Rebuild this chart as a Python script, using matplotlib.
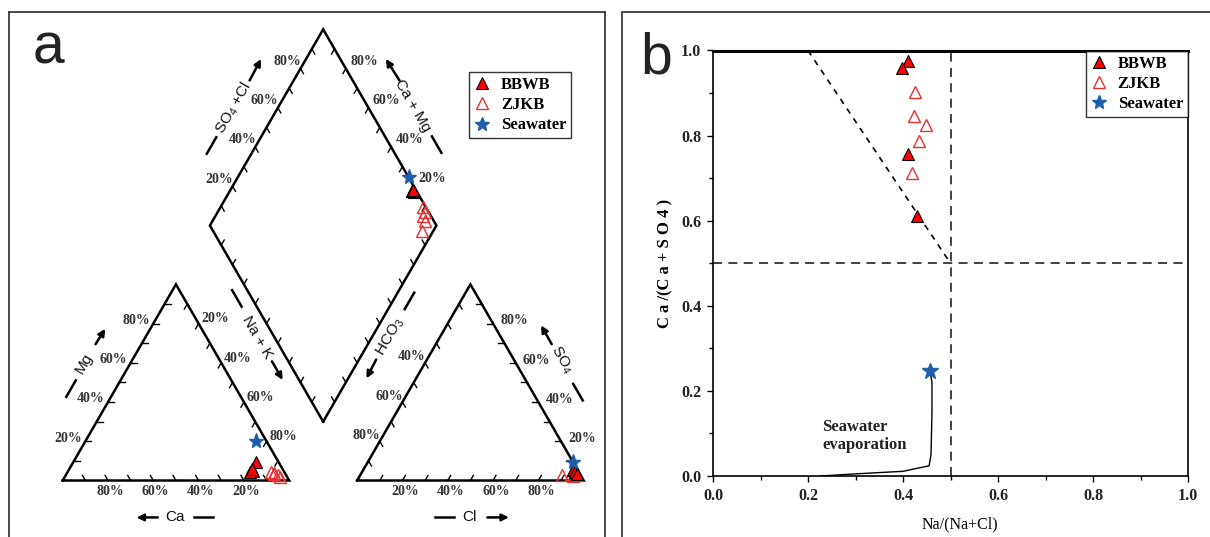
import numpy as np
import matplotlib
matplotlib.use("Agg")
import matplotlib.pyplot as plt
from matplotlib.lines import Line2D
from matplotlib.patches import Rectangle
from matplotlib.ticker import MultipleLocator, FormatStrFormatter

plt.rcParams['font.family'] = 'Liberation Serif'
plt.rcParams['mathtext.fontset'] = 'custom'
plt.rcParams['mathtext.rm'] = 'Liberation Sans'
plt.rcParams['mathtext.it'] = 'Liberation Sans:italic'

# ---- panel a: piper data (% meq) ----
bbwb_ca = [10.0, 13.5, 15.0, 13.5]
bbwb_mg = [9.5, 5.0, 4.5, 6.0]
bbwb_nak = [80.5, 81.5, 80.5, 80.5]
bbwb_cl = [92.6, 95.0, 94.0, 95.5]
bbwb_so4 = [5.4, 3.7, 4.3, 3.3]
bbwb_hco3 = [2.0, 1.3, 1.7, 1.2]

zjkb_ca = [6.0, 4.5, 5.0, 3.0, 3.5]
zjkb_mg = [4.5, 4.0, 3.5, 2.0, 3.0]
zjkb_nak = [89.5, 91.5, 91.5, 95.0, 93.5]
zjkb_cl = [95.5, 95.5, 94.0, 89.0, 92.5]
zjkb_so4 = [3.5, 3.0, 2.5, 3.0, 3.5]
zjkb_hco3 = [1.0, 1.5, 3.5, 8.0, 4.0]

sea_ca = [4.5]
sea_mg = [20.0]
sea_nak = [75.5]
sea_cl = [90.5]
sea_so4 = [9.5]
sea_hco3 = [0.0]

pct_ticks = [20, 40, 60, 80]

# ---- panel b: ion ratios ----
b_bbwb_x = [0.410, 0.398, 0.410, 0.429]
b_bbwb_y = [0.975, 0.958, 0.757, 0.612]
b_zjkb_x = [0.426, 0.424, 0.449, 0.433, 0.419]
b_zjkb_y = [0.902, 0.845, 0.824, 0.787, 0.711]
b_sea_x = [0.456]
b_sea_y = [0.246]
evap_x = [0.458, 0.461, 0.461, 0.459, 0.455, 0.40, 0.30, 0.27, 0.225]
evap_y = [0.240, 0.220, 0.150, 0.050, 0.024, 0.011, 0.005, 0.003, 0.0]

H = np.sqrt(3) / 2
GAP = 0.30
OFF = 1 + GAP

RED = '#ff0000'
OPEN_RED = '#e8312f'
BLUE = '#1f5ea8'
DARK = '#333333'


def cat_xy(ca, mg, nak):
    ca, mg, nak = np.asarray(ca), np.asarray(mg), np.asarray(nak)
    t = ca + mg + nak
    return nak / t + mg / t / 2, mg / t * H


def an_xy(cl, so4, hco3):
    cl, so4, hco3 = np.asarray(cl), np.asarray(so4), np.asarray(hco3)
    t = cl + so4 + hco3
    return OFF + cl / t + so4 / t / 2, so4 / t * H


def dia_xy(n, cs):
    n, cs = np.asarray(n), np.asarray(cs)
    return (n + OFF + cs) / 2, H * (OFF + cs - n)


def dia_sample(ca, mg, nak, cl, so4, hco3):
    n = np.asarray(nak) / (np.asarray(ca) + np.asarray(mg) + np.asarray(nak))
    cs = (np.asarray(cl) + np.asarray(so4)) / (np.asarray(cl) + np.asarray(so4) + np.asarray(hco3))
    return dia_xy(n, cs)


fig = plt.figure(figsize=(12.1, 5.37), dpi=100)

# ================= panel a =================
ax = fig.add_axes([9 / 1210, 0, 596 / 1210, 525 / 537])
ax.set_xlim(-0.2371, 2.3943)
ax.set_ylim(-0.2494, 2.0684)
ax.set_xticks([])
ax.set_yticks([])
ax.spines['bottom'].set_visible(False)
for s in ['left', 'top', 'right']:
    ax.spines[s].set_linewidth(1.3)
    ax.spines[s].set_color('#3a3a3a')

lw_frame = 1.8
ax.plot([0, 1, 0.5, 0], [0, 0, H, 0], color='k', lw=lw_frame, solid_joinstyle='miter')
ax.plot([OFF, OFF + 1, OFF + 0.5, OFF], [0, 0, H, 0], color='k', lw=lw_frame, solid_joinstyle='miter')
dx, dy = dia_xy([1, 0, 0, 1, 1], [0, 0, 1, 1, 0])
ax.plot(dx, dy, color='k', lw=lw_frame, solid_joinstyle='miter')

edges = [
    (lambda v: (v / 2, v * H), (1, 0)),
    (lambda v: (v, 0), (-0.5, H)),
    (lambda v: (0.5 + 0.5 * v, H * (1 - v)), (-0.5, -H)),
    (lambda v: (OFF + 0.5 * (1 - v), H * (1 - v)), (0.5, -H)),
    (lambda v: (OFF + v, 0), (0.5, H)),
    (lambda v: (OFF + 1 - 0.5 * v, H * v), (-1, 0)),
    (lambda v: dia_xy(0, v), (0.5, -H)),
    (lambda v: dia_xy(v, 1), (-0.5, -H)),
    (lambda v: dia_xy(v, 0), (0.5, H)),
    (lambda v: dia_xy(1, v), (-0.5, H)),
]
tl = 0.026
for f, d in edges:
    for v in np.arange(1, 10) / 10:
        px, py = f(v)
        ax.plot([px, px + tl * d[0]], [py, py + tl * d[1]], color='k', lw=1.0)

tick_kw = dict(fontsize=10, fontweight='bold', color=DARK, ha='center', va='center')
for v in pct_ticks:
    f = v / 100
    lab = f"{v}%"
    px, py = f / 2, f * H
    ax.text(px - 0.075, py + 0.014, lab, **tick_kw)
    ax.text(1 - f + 0.01, -0.048, lab, **tick_kw)
    px, py = 0.5 + 0.5 * f, H * (1 - f)
    ax.text(px + 0.073, py + 0.021, lab, **tick_kw)
    if v >= 40:
        px, py = OFF + 0.5 * (1 - f), H * (1 - f)
        ax.text(px - 0.06, py + 0.026, lab, **tick_kw)
    ax.text(OFF + f + 0.014, -0.048, lab, **tick_kw)
    px, py = OFF + 1 - 0.5 * f, H * f
    ax.text(px + 0.092, py + 0.012, lab, **tick_kw)
    px, py = dia_xy(0, f)
    ax.text(px - 0.058, py + 0.032, lab, **tick_kw)
    px, py = dia_xy(1 - f, 1)
    ax.text(px + 0.08, py + 0.033, lab, **tick_kw)

# axis names with dash and arrow
names = [
    ("SO$_4$ +Cl", (0.756, 1.645), 60, (0.657, 1.479), ((0.825, 1.766), (0.876, 1.861))),
    ("Ca + Mg", (1.547, 1.653), -60, (1.651, 1.483), ((1.487, 1.766), (1.427, 1.861))),
    ("Na + K", (0.859, 0.632), -60, (0.769, 0.804), ((0.924, 0.526), (0.971, 0.444))),
    ("HCO$_3$", (1.445, 0.632), 60, (1.531, 0.793), ((1.384, 0.534), (1.341, 0.451))),
    ("Mg", (0.093, 0.519), 60, (0.037, 0.406), ((0.145, 0.602), (0.188, 0.670))),
    ("SO$_4$", (2.202, 0.534), -60, (2.275, 0.390), ((2.159, 0.602), (2.112, 0.685))),
    ("Ca", (0.498, -0.161), 0, (0.622, -0.163), ((0.420, -0.163), (0.326, -0.163))),
    ("Cl", (1.797, -0.161), 0, (1.686, -0.163), ((1.875, -0.163), (1.970, -0.163))),
]
for txt, pos, rot, dc, (tail, head) in names:
    ax.text(pos[0], pos[1], txt, rotation=rot, family='Liberation Sans', fontsize=11,
            ha='center', va='center', rotation_mode='anchor', color='#111111')
    ang = np.deg2rad(rot)
    hl = 0.042
    ax.plot([dc[0] - hl * np.cos(ang), dc[0] + hl * np.cos(ang)],
            [dc[1] - hl * np.sin(ang), dc[1] + hl * np.sin(ang)], color='k', lw=1.8)
    ax.annotate('', xy=head, xytext=tail,
                arrowprops=dict(arrowstyle='-|>', color='k', lw=1.8, mutation_scale=10,
                                shrinkA=0, shrinkB=0))

MS = 9
# samples
for fx, args in [(cat_xy, (zjkb_ca, zjkb_mg, zjkb_nak)),
                 (an_xy, (zjkb_cl, zjkb_so4, zjkb_hco3))]:
    x, y = fx(*args)
    ax.plot(x, y, ls='none', marker='^', ms=MS, mfc='none', mec=OPEN_RED, mew=1.0)
x, y = dia_sample(zjkb_ca, zjkb_mg, zjkb_nak, zjkb_cl, zjkb_so4, zjkb_hco3)
ax.plot(x, y, ls='none', marker='^', ms=MS, mfc='none', mec=OPEN_RED, mew=1.0)

for fx, args in [(cat_xy, (bbwb_ca, bbwb_mg, bbwb_nak)),
                 (an_xy, (bbwb_cl, bbwb_so4, bbwb_hco3))]:
    x, y = fx(*args)
    ax.plot(x, y, ls='none', marker='^', ms=MS, mfc=RED, mec='k', mew=0.8)
x, y = dia_sample(bbwb_ca, bbwb_mg, bbwb_nak, bbwb_cl, bbwb_so4, bbwb_hco3)
ax.plot(x, y, ls='none', marker='^', ms=MS, mfc=RED, mec='k', mew=0.8)

for fx, args in [(cat_xy, (sea_ca, sea_mg, sea_nak)),
                 (an_xy, (sea_cl, sea_so4, sea_hco3))]:
    x, y = fx(*args)
    ax.plot(x, y, ls='none', marker='*', ms=11, color=BLUE)
x, y = dia_sample(sea_ca, sea_mg, sea_nak, sea_cl, sea_so4, sea_hco3)
ax.plot(x, y, ls='none', marker='*', ms=11, color=BLUE)

handles = [
    Line2D([], [], ls='none', marker='^', ms=8, mfc=RED, mec='k', mew=0.8, label='BBWB'),
    Line2D([], [], ls='none', marker='^', ms=8, mfc='none', mec=OPEN_RED, mew=1.0, label='ZJKB'),
    Line2D([], [], ls='none', marker='*', ms=10, color=BLUE, label='Seawater'),
]
leg_kw = dict(prop=dict(family='Liberation Serif', weight='bold', size=12), frameon=True,
              fancybox=False, edgecolor='k', handlelength=1.0, handletextpad=0.6,
              labelspacing=0.25, borderpad=0.3, borderaxespad=0)
leg = ax.legend(handles=handles, loc='upper left', bbox_to_anchor=(0.772, 0.8857),
                bbox_transform=ax.transAxes, **leg_kw)
leg.get_frame().set_linewidth(1.0)

fig.text(33 / 1210, 1 - 63.4 / 537, 'a', fontsize=41, family='Liberation Sans',
         va='baseline', ha='left', color='#222222')

# ================= panel b =================
fig.add_artist(Rectangle((622 / 1210, -0.05), 600 / 1210, 1 - 12 / 537 + 0.05,
                         transform=fig.transFigure, fill=False, lw=1.3, ec='#3a3a3a'))
fig.text(640 / 1210, 1 - 73.6 / 537, 'b', fontsize=41, family='Liberation Sans',
         va='baseline', ha='left', color='#222222')

bx = fig.add_axes([713 / 1210, (537 - 476) / 537, 475 / 1210, 425.5 / 537])
bx.set_xlim(0, 1)
bx.set_ylim(0, 1)
bx.plot([0.5, 0.5], [0, 1], color=DARK, lw=1.3, ls=(0, (5, 3.5)))
bx.plot([0, 1], [0.5, 0.5], color=DARK, lw=1.3, ls=(0, (5, 3.5)))
bx.plot([0.2, 0.5], [1.0, 0.5], color='k', lw=1.2, ls=(0, (3.5, 3.5)))
bx.plot(evap_x, evap_y, color='k', lw=1.0)

bx.plot(b_zjkb_x, b_zjkb_y, ls='none', marker='^', ms=8, mfc='none', mec=OPEN_RED, mew=1.0)
bx.plot(b_bbwb_x, b_bbwb_y, ls='none', marker='^', ms=8, mfc=RED, mec='k', mew=0.8)
bx.plot(b_sea_x, b_sea_y, ls='none', marker='*', ms=12, color=BLUE)

bx.text(0.23, 0.094, 'Seawater\nevaporation', fontsize=12, fontweight='bold',
        ha='left', va='center', linespacing=1.1, color='#222222')

bx.xaxis.set_major_locator(MultipleLocator(0.2))
bx.xaxis.set_minor_locator(MultipleLocator(0.1))
bx.yaxis.set_major_locator(MultipleLocator(0.2))
bx.yaxis.set_minor_locator(MultipleLocator(0.1))
bx.xaxis.set_major_formatter(FormatStrFormatter('%.1f'))
bx.yaxis.set_major_formatter(FormatStrFormatter('%.1f'))
bx.tick_params(which='major', direction='out', length=4.5, width=1.0, labelsize=11.5, pad=4)
bx.tick_params(which='minor', direction='out', length=3, width=1.0)
for lab in bx.get_xticklabels() + bx.get_yticklabels():
    lab.set_fontweight('bold')
    lab.set_color('#222222')
for s in bx.spines.values():
    s.set_linewidth(1.2)
bx.spines['top'].set_linewidth(2.2)

bx.set_xlabel('Na/(Na+Cl)', fontsize=11.5)
bx.xaxis.set_label_coords(0.52, -0.095)
bx.set_ylabel('C a /(C a + S O 4 )', fontsize=12, fontweight='bold')
bx.yaxis.set_label_coords(-0.083, 0.5)

leg2 = bx.legend(handles=handles, loc='upper right', bbox_to_anchor=(1, 1), **leg_kw)
leg2.get_frame().set_linewidth(1.0)

fig.savefig('out.png', dpi=100)
